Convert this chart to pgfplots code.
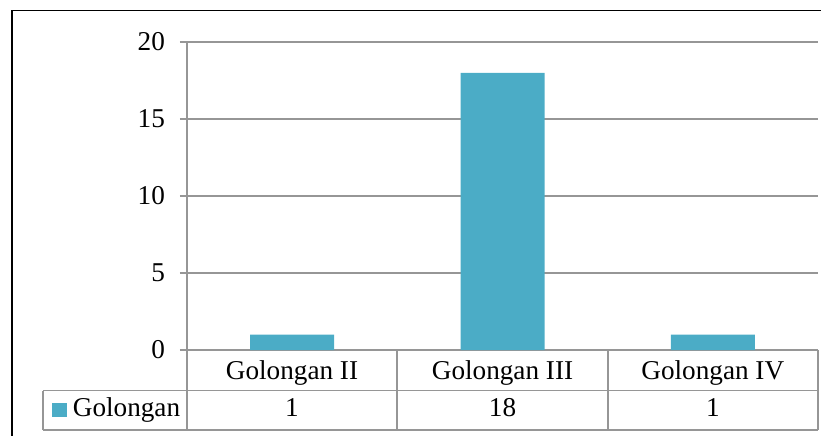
\documentclass[border=0pt]{standalone}
\usepackage{fontspec}
\setmainfont{Liberation Serif}
\usepackage{pgfplots}
\pgfplotsset{compat=1.18}
\definecolor{barteal}{HTML}{4BACC6}
\definecolor{gridgray}{HTML}{969696}
\newcommand{\lbl}{\fontsize{13.6}{16}\selectfont}
\begin{document}
\begin{tikzpicture}
% frame and data table, in reference pixels (1px = 0.5pt, y down)
\begin{scope}[x=0.5pt,y=-0.5pt]
  \path[use as bounding box] (0,0) rectangle (821,435);
  \draw[black, line width=0.8pt] (12,436) -- (12,10.5) -- (822,10.5);
  \draw[gridgray, line width=0.85pt]
    (43,390.5) -- (818,390.5)
    (43,430) -- (818,430)
    (43,390.5) -- (43,430)
    (187,350) -- (187,430)
    (397.3,350) -- (397.3,430)
    (607.7,350) -- (607.7,430)
    (818,350) -- (818,430);
  \node[anchor=base, inner sep=0pt, font=\lbl] at (292,379.5) {Golongan II};
  \node[anchor=base, inner sep=0pt, font=\lbl] at (502.5,379.5) {Golongan III};
  \node[anchor=base, inner sep=0pt, font=\lbl] at (712.8,379.5) {Golongan IV};
  \node[anchor=base, inner sep=0pt, font=\lbl] at (292,416.5) {1};
  \node[anchor=base, inner sep=0pt, font=\lbl] at (502.5,416.5) {18};
  \node[anchor=base, inner sep=0pt, font=\lbl] at (712.8,416.5) {1};
  \fill[barteal] (52,402.5) rectangle (66.5,417);
  \node[anchor=base west, inner sep=0pt, font=\lbl] at (72.5,416.5) {Golongan};
\end{scope}
\begin{axis}[
    at={(93.5pt,-175pt)}, anchor=south west,
    scale only axis,
    width=315.5pt, height=154pt,
    xmin=0, xmax=3,
    ymin=0, ymax=20,
    ytick={0,5,...,20},
    xtick=\empty,
    axis x line=bottom, axis y line=left,
    axis line style={-, draw=gridgray, line width=0.85pt},
    ymajorgrids,
    grid style={gridgray, line width=0.85pt},
    tick align=outside,
    major tick length=3.5pt,
    tick style={gridgray, line width=0.85pt},
    yticklabel style={font=\lbl, xshift=-4pt},
    /pgf/number format/assume math mode=true,
    clip=false,
  ]
  \addplot[ybar, fill=barteal, draw=none, bar width=42pt, bar shift=0pt]
    coordinates {(0.5,1) (1.5,18) (2.5,1)};
\end{axis}
\end{tikzpicture}
\end{document}
